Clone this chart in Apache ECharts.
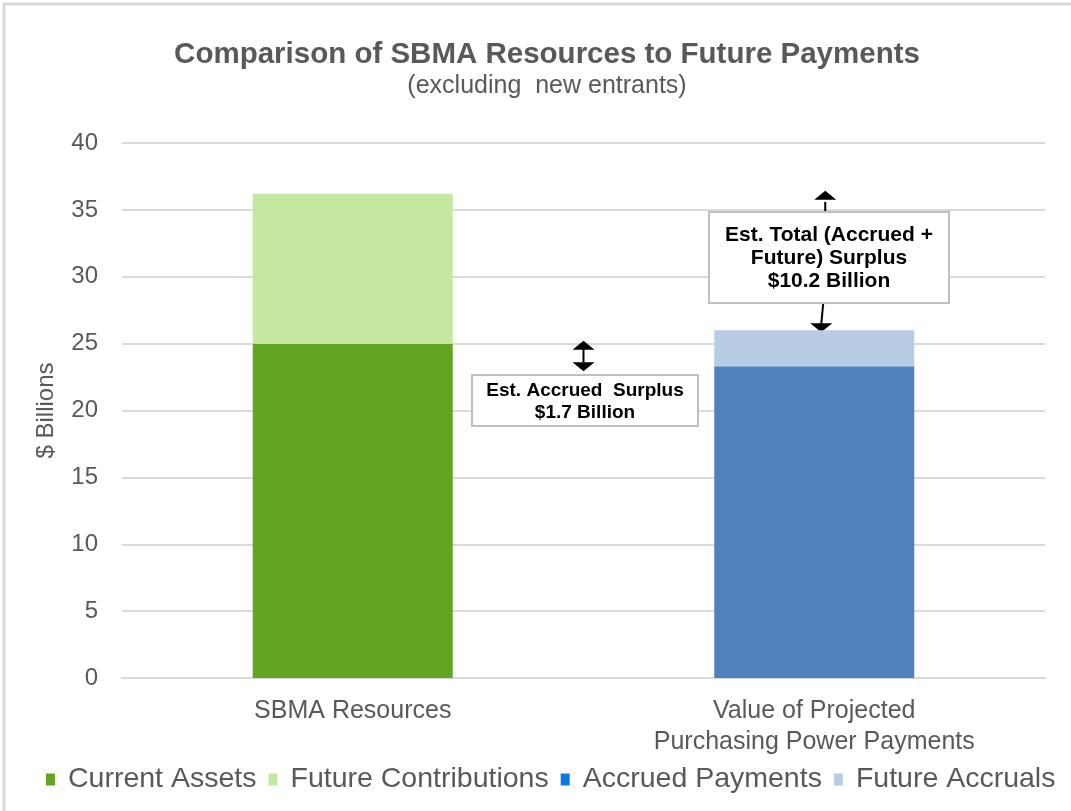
<!DOCTYPE html>
<html>
<head>
<meta charset="utf-8">
<script src="https://cdn.jsdelivr.net/npm/echarts@6/dist/echarts.min.js"></script>
<style>
  html, body { margin: 0; padding: 0; background: #fff; }
  #main { width: 1071px; height: 811px; }
</style>
</head>
<body>
<div id="main"></div>
<script>
// 数据
var categories = ['SBMA Resources', 'Value of Projected\nPurchasing Power Payments'];
var currentAssets = [25.0, null];
var futureContributions = [11.2, null];
var accruedPayments = [null, 23.3];
var futureAccruals = [null, 2.7];
var yTicks = [0, 5, 10, 15, 20, 25, 30, 35, 40];

var font = 'Liberation Sans, Arial, sans-serif';
var grey = '#595959';

var chart = echarts.init(document.getElementById('main'));

function bar(name, data, color) {
  return {
    name: name,
    type: 'bar',
    stack: 'total',
    barWidth: 200,
    data: data,
    itemStyle: { color: color },
    emphasis: { disabled: true }
  };
}

var option = {
  backgroundColor: '#ffffff',
  animation: false,
  title: {
    text: 'Comparison of SBMA Resources to Future Payments',
    subtext: '(excluding  new entrants)',
    left: 542,
    textAlign: 'center',
    top: 35,
    itemGap: 4,
    textStyle: { fontFamily: font, fontSize: 29.5, fontWeight: 'bold', color: grey },
    subtextStyle: { fontFamily: font, fontSize: 25, color: grey }
  },
  grid: { left: 122, right: 26, top: 143, bottom: 133 },
  legend: {
    bottom: 12,
    left: 41,
    itemWidth: 9,
    itemHeight: 12,
    itemGap: 12,
    icon: 'rect',
    textStyle: { fontFamily: font, fontSize: 28.5, color: grey, padding: [0, 0, 0, 8] },
    data: [
      { name: 'Current Assets' },
      { name: 'Future Contributions' },
      { name: 'Accrued Payments', itemStyle: { color: '#0A7BE0' } },
      { name: 'Future Accruals' }
    ]
  },
  xAxis: {
    type: 'category',
    data: categories,
    axisLine: { lineStyle: { color: '#D9D9D9', width: 2 } },
    axisTick: { show: false },
    axisLabel: { fontFamily: font, fontSize: 25, color: grey, margin: 18, lineHeight: 31 }
  },
  yAxis: {
    type: 'value',
    min: 0,
    max: 40,
    interval: 5,
    name: '$ Billions',
    nameLocation: 'middle',
    nameGap: 64,
    nameTextStyle: { fontFamily: font, fontSize: 24, color: grey },
    axisLine: { show: false },
    axisTick: { show: false },
    splitLine: { lineStyle: { color: '#D9D9D9', width: 2 } },
    axisLabel: {
      fontFamily: font, fontSize: 24, color: grey, margin: 24,
      formatter: function (v) { return yTicks.indexOf(v) >= 0 ? String(v) : ''; }
    }
  },
  series: [
    bar('Current Assets', currentAssets, '#63A522'),
    bar('Future Contributions', futureContributions, '#C5E8A0'),
    bar('Accrued Payments', accruedPayments, '#4F81BD'),
    bar('Future Accruals', futureAccruals, '#B8CCE4')
  ]
};

chart.setOption(option);

// 注释框和箭头
function px(cat, val) {
  return chart.convertToPixel({ xAxisIndex: 0, yAxisIndex: 0 }, [cat, val]);
}
var resTotal = currentAssets[0] + futureContributions[0];
var payTotal = accruedPayments[1] + futureAccruals[1];

var pA = px(0, currentAssets[0]);
var pB = px(0, accruedPayments[1]);
var midX = (px(0, 0)[0] + px(1, 0)[0]) / 2;
var yTopRes = px(0, resTotal)[1];
var yTopPay = px(1, payTotal)[1];
var barX = px(1, 0)[0];

function head(x, y, dir) {
  // dir: -1 指向上, 1 指向下
  return {
    type: 'polygon',
    shape: { points: [[x - 11, y - dir * 9], [x + 11, y - dir * 9], [x, y]] },
    style: { fill: '#000' }
  };
}
function line(x1, y1, x2, y2) {
  return { type: 'line', shape: { x1: x1, y1: y1, x2: x2, y2: y2 }, style: { stroke: '#000', lineWidth: 2 } };
}
function box(x, y, w, h, text, size, lh) {
  return [
    { type: 'rect', shape: { x: x, y: y, width: w, height: h },
      style: { fill: '#fff', stroke: '#BFBFBF', lineWidth: 2 } },
    { type: 'text', x: x + w / 2, y: y + h / 2 + 1,
      style: { text: text, fill: '#000', font: 'bold ' + size + 'px ' + font, align: 'center', verticalAlign: 'middle', lineHeight: lh } }
  ];
}

var ax = midX;
var upX = barX + 11;
var dnX = barX + 7;
var elements = [
  { type: 'rect', shape: { x: 4, y: 4, width: 1100, height: 840 }, style: { fill: 'none', stroke: '#D9D9D9', lineWidth: 3 } },
  line(ax, pA[1] + 4, ax, pB[1] - 4),
  head(ax, pA[1] - 3, -1),
  head(ax, pB[1] + 5, 1),
  line(upX, yTopRes + 8, upX, 212),
  head(upX, yTopRes - 3, -1),
  line(dnX + 2, 303, dnX, yTopPay - 6),
  head(dnX, yTopPay + 2, 1)
].concat(
  box(472, 375, 226, 51, 'Est. Accrued  Surplus\n$1.7 Billion', 19, 22),
  box(709, 212, 240, 91, 'Est. Total (Accrued +\nFuture) Surplus\n$10.2 Billion', 21, 23)
);

chart.setOption({ graphic: { elements: elements } });
</script>
</body>
</html>
